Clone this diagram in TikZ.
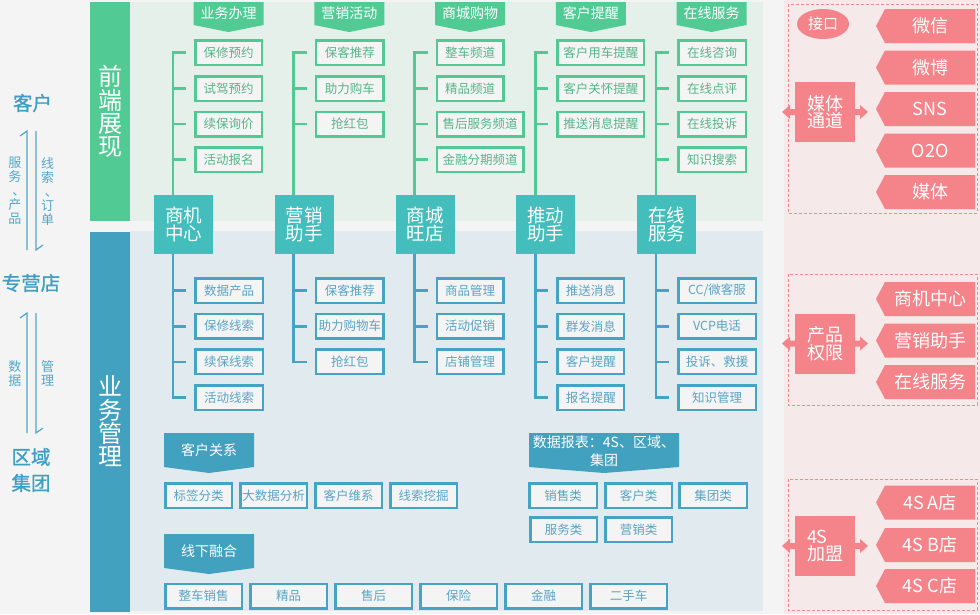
\documentclass[tikz,border=0pt]{standalone}
\usepackage{fontspec}
\setmainfont{Noto Sans CJK SC}
\newfontfamily\headfont[FakeBold=1]{Noto Sans CJK SC}
\usetikzlibrary{calc,backgrounds,shapes.geometric}
\definecolor{pagebg}{HTML}{F4F4F4}
\definecolor{frontbar}{HTML}{52CA94}
\definecolor{frontpanel}{HTML}{E4F0E9}
\definecolor{hubteal}{HTML}{43BEBC}
\definecolor{bizbar}{HTML}{43A1C0}
\definecolor{bizpanel}{HTML}{E1EAEE}
\definecolor{gline}{HTML}{52C994}
\definecolor{gtext}{HTML}{58B48A}
\definecolor{bline}{HTML}{45A3C4}
\definecolor{btext}{HTML}{5AA4C4}
\definecolor{boxfill}{HTML}{F4F4F4}
\definecolor{pinkc}{HTML}{F4848A}
\definecolor{pinkbg}{HTML}{F5E9EA}
\definecolor{pinkdash}{HTML}{F18B90}
\definecolor{sidetext}{HTML}{3E9EC4}
\definecolor{sidelight}{HTML}{52A7C8}
\newcommand\vcomma{\makebox[1em][l]{\hspace{0.3em}、}}
\begin{document}
\begin{tikzpicture}[x=1pt,y=-1pt,
  every node/.style={inner sep=0pt, outer sep=0pt},
  gbox/.style={draw=gline, line width=2.5pt, fill=boxfill, outer sep=1.25pt,
    minimum width=#1-2.5, minimum height=24.5, text=gtext,
    font=\fontsize{12.5}{14}\selectfont},
  gbox/.default=69,
  bbox/.style={draw=bline, line width=2.5pt, fill=boxfill, outer sep=1.25pt,
    minimum width=#1-2.5, minimum height=24.5, text=btext,
    font=\fontsize{12.5}{14}\selectfont},
  bbox/.default=69,
  hub/.style={fill=hubteal, minimum size=59, text=white, align=center,
    font=\fontsize{18.5}{18}\selectfont},
  bar/.style={minimum width=40, text=white, align=center,
    font=\fontsize{24}{23.3}\selectfont},
  gban/.style={minimum width=70, minimum height=23, text=white,
    font=\fontsize{14}{16}\selectfont},
  bban/.style={minimum width=#1, minimum height=34, text=white, align=center,
    font=\fontsize{14}{18}\selectfont},
  tag/.style={minimum width=90, minimum height=34, text=white,
    font=\fontsize{18}{20}\selectfont},
  pinkbox/.style={fill=pinkc, minimum size=60, text=white, align=center,
    font=\fontsize{18}{17.5}\selectfont},
  gtree/.style={draw=gline, line width=2.6pt},
  btree/.style={draw=bline, line width=2.6pt},
  flow/.style={draw=sidelight, line width=1.2pt},
  sidelbl/.style={text=sidelight, align=center, font=\fontsize{13}{14}\selectfont},
  sidehead/.style={text=sidetext, align=center, font=\headfont\fontsize{19.5}{26}\selectfont},
  dashbox/.style={draw=pinkdash, line width=0.9pt, dash pattern=on 3pt off 2pt}
]
\useasboundingbox (0,0) rectangle (980,614);

% backdrop and the two panels
\begin{pgfonlayer}{background}
  \fill[pagebg] (0,0) rectangle (980,614);
  \fill[pinkbg] (784,0) rectangle (980,614);
  \fill[frontpanel] (130,2) rectangle (763,221);
  \fill[bizpanel] (130,231) rectangle (763,611);
\end{pgfonlayer}

% side bars
\node[bar, fill=frontbar, minimum height=219] (fbar) at (110,111.5) {前\\端\\展\\现};
\node[bar, fill=bizbar, minimum height=380] (bbar) at (110,421.5) {业\\务\\管\\理};

% left column: customer / dealer / region
\node[sidehead] (kh) at (32.5,103) {客户};
\node[sidehead] (zyd) at (31,283) {专营店};
\node[sidehead] (qy) at (31,470) {区域\\集团};
\node[sidelbl] (l1) at (15,191) {服\\务\\\vcomma\\产\\品};
\node[sidelbl] (l2) at (47.5,192) {线\\索\\\vcomma\\订\\单};
\node[sidelbl] (l3) at (15,373.5) {数\\据};
\node[sidelbl] (l4) at (47.5,373.5) {管\\理};
\coordinate (u1a) at (27,250); \coordinate (u1b) at (27,131);
\coordinate (d1a) at (36,131); \coordinate (d1b) at (36,250);
\coordinate (u2a) at (27,433); \coordinate (u2b) at (27,313);
\coordinate (d2a) at (36,313); \coordinate (d2b) at (36,433);
\draw[flow] (u1a) -- (u1b) -- ++(-7,5);
\draw[flow] (d1a) -- (d1b) -- ++(7,-5);
\draw[flow] (u2a) -- (u2b) -- ++(-7,5);
\draw[flow] (d2a) -- (d2b) -- ++(7,-5);

% hubs
\node[hub] (h0) at (183.5,224.5) {商机\\中心};
\node[hub] (h1) at (304.25,224.5) {营销\\助手};
\node[hub] (h2) at (425,224.5) {商城\\旺店};
\node[hub] (h3) at (545.75,224.5) {推动\\助手};
\node[hub] (h4) at (666.5,224.5) {在线\\服务};

% top banners
\node[gban] (tb0) at (228.5,13.5) {业务办理};
\node[gban] (tb1) at (349.25,13.5) {营销活动};
\node[gban] (tb2) at (470,13.5) {商城购物};
\node[gban] (tb3) at (590.75,13.5) {客户提醒};
\node[gban] (tb4) at (711.5,13.5) {在线服务};

% front-end items
\node[gbox] (a1) at (228.5,52.5) {保修预约};
\node[gbox] (a2) at (228.5,88.5) {试驾预约};
\node[gbox] (a3) at (228.5,124) {续保询价};
\node[gbox] (a4) at (228.5,159.5) {活动报名};
\node[gbox=70] (b1) at (349.75,52.5) {保客推荐};
\node[gbox=70] (b2) at (349.75,88.5) {助力购车};
\node[gbox=70] (b3) at (349.75,124) {抢红包};
\node[gbox] (c1) at (470,52.5) {整车频道};
\node[gbox] (c2) at (470,88.5) {精品频道};
\node[gbox=89] (c3) at (480,124) {售后服务频道};
\node[gbox=89] (c4) at (480,159.5) {金融分期频道};
\node[gbox=89] (d1) at (600.75,52.5) {客户用车提醒};
\node[gbox=89] (d2) at (600.75,88.5) {客户关怀提醒};
\node[gbox=89] (d3) at (600.75,124) {推送消息提醒};
\node[gbox=70] (e1) at (712,52.5) {在线咨询};
\node[gbox=70] (e2) at (712,88.5) {在线点评};
\node[gbox=70] (e3) at (712,124) {在线投诉};
\node[gbox=70] (e4) at (712,159.5) {知识搜索};

% business items
\node[bbox=70] (p1) at (229,290.5) {数据产品};
\node[bbox=70] (p2) at (229,326.2) {保修线索};
\node[bbox=70] (p3) at (229,361.8) {续保线索};
\node[bbox=70] (p4) at (229,397.5) {活动线索};
\node[bbox=70] (q1) at (349.75,290.5) {保客推荐};
\node[bbox=70] (q2) at (349.75,326.2) {助力购物车};
\node[bbox=70] (q3) at (349.75,361.8) {抢红包};
\node[bbox] (r1) at (470,290.5) {商品管理};
\node[bbox] (r2) at (470,326.2) {活动促销};
\node[bbox] (r3) at (470,361.8) {店铺管理};
\node[bbox] (s1) at (590.75,290.5) {推送消息};
\node[bbox] (s2) at (590.75,326.2) {群发消息};
\node[bbox] (s3) at (590.75,361.8) {客户提醒};
\node[bbox] (s4) at (590.75,397.5) {报名提醒};
\node[bbox=80] (t1) at (717,290.5) {CC/微客服};
\node[bbox=80] (t2) at (717,326.2) {VCP电话};
\node[bbox=80] (t3) at (717,361.8) {投诉、救援};
\node[bbox=80] (t4) at (717,397.5) {知识管理};

% trees: trunk from each hub, one tick per item
\foreach \h/\list in {h0/{a1,a2,a3,a4}, h1/{b1,b2,b3}, h2/{c1,c2,c3,c4}, h3/{d1,d2,d3}, h4/{e1,e2,e3,e4}}{
  \foreach \b in \list
    \draw[gtree] ($(\h.north west)+(19,0)$) |- ([xshift=-8pt]\b.west);
}
\foreach \h/\list in {h0/{p1,p2,p3,p4}, h1/{q1,q2,q3}, h2/{r1,r2,r3}, h3/{s1,s2,s3,s4}, h4/{t1,t2,t3,t4}}{
  \foreach \b in \list
    \draw[btree] ($(\h.south west)+(19,0)$) |- ([xshift=-8pt]\b.west);
}

% lower banners and their items
\node[bban=90] (kb) at (209,450) {客户关系};
\node[bbox] (k1) at (198.5,495.5) {标签分类};
\node[bbox] (k2) at (273.5,495.5) {大数据分析};
\node[bbox] (k3) at (348.5,495.5) {客户维系};
\node[bbox] (k4) at (423.5,495.5) {线索挖掘};

\node[bban=150] (sb) at (604,451) {数据报表：4S、区域、\\集团};
\node[bbox=70] (m1) at (563,495.5) {销售类};
\node[bbox] (m2) at (638.5,495.5) {客户类};
\node[bbox=70] (m3) at (713,495.5) {集团类};
\node[bbox] (m4) at (563.5,529.5) {服务类};
\node[bbox] (m5) at (638.5,529.5) {营销类};

\node[bban=90] (xb) at (209,551) {线下融合};
\node[bbox=79] (x1) at (203.5,596) {整车销售};
\node[bbox=79] (x2) at (288.5,596) {精品};
\node[bbox=79] (x3) at (373.5,596) {售后};
\node[bbox=79] (x4) at (458.5,596) {保险};
\node[bbox=79] (x5) at (543.5,596) {金融};
\node[bbox=79] (x6) at (628.5,596) {二手车};

% right-hand channel panel
\draw[dashbox] (788,4) rectangle (977,213);
\draw[dashbox] (788,274) rectangle (977,405);
\draw[dashbox] (788,479) rectangle (977,610);

\node[ellipse, fill=pinkc, minimum width=52, minimum height=30, text=white,
  font=\fontsize{15}{16}\selectfont] (jk) at (823,24) {接口};
\node[pinkbox] (mt) at (825,112) {媒体\\通道};
\node[pinkbox] (pq) at (825,343.5) {产品\\权限};
\node[pinkbox, align=left] (jm) at (825,546) {4S\\加盟};

\node[tag] (g1) at (930,26) {微信};
\node[tag] (g2) at (930,67.5) {微博};
\node[tag] (g3) at (930,109) {SNS};
\node[tag] (g4) at (930,150.5) {O2O};
\node[tag] (g5) at (930,192) {媒体};
\node[tag] (g6) at (930,299) {商机中心};
\node[tag] (g7) at (930,340.5) {营销助手};
\node[tag] (g8) at (930,382) {在线服务};
\node[tag] (g9) at (930,502.5) {4S A店};
\node[tag] (g10) at (930,545) {4S B店};
\node[tag] (g11) at (930,586) {4S C店};

% small double arrows on the pink boxes
\foreach \n in {mt,pq,jm}{
  \fill[pinkc] ($(\n.west)+(0,-3)$) -- ++(-5,0) -- ++(0,-4) -- ($(\n.west)+(-13,0)$)
    -- ($(\n.west)+(-5,7)$) -- ++(0,-4) -- ($(\n.west)+(0,3)$) -- cycle;
  \fill[pinkc] ($(\n.east)+(0,-3)$) -- ++(5,0) -- ++(0,-4) -- ($(\n.east)+(13,0)$)
    -- ($(\n.east)+(5,7)$) -- ++(0,-4) -- ($(\n.east)+(0,3)$) -- cycle;
}

% banner and tag shapes behind their text
\begin{pgfonlayer}{background}
  \foreach \n in {tb0,tb1,tb2,tb3,tb4}
    \fill[frontbar] (\n.north west) -- (\n.north east) -- (\n.south east)
      -- ($(\n.south)+(0,7)$) -- (\n.south west) -- cycle;
  \foreach \n in {kb,xb}
    \fill[bizbar] (\n.north west) -- (\n.north east) -- (\n.south east)
      -- ($(\n.south)+(0,6)$) -- (\n.south west) -- cycle;
  \fill[bizbar] ([yshift=1pt]sb.north west) -- ([yshift=1pt]sb.north east)
      -- ([yshift=1pt]sb.south east) -- ($(sb.south)+(0,5)$)
      -- ([yshift=1pt]sb.south west) -- cycle;
  \foreach \n in {g1,g2,g3,g4,g5,g6,g7,g8,g9,g10,g11}
    \fill[pinkc] (\n.north west) -- (\n.north east) -- (\n.south east)
      -- (\n.south west) -- ($(\n.west)+(-9,0)$) -- cycle;
\end{pgfonlayer}
\end{tikzpicture}
\end{document}
